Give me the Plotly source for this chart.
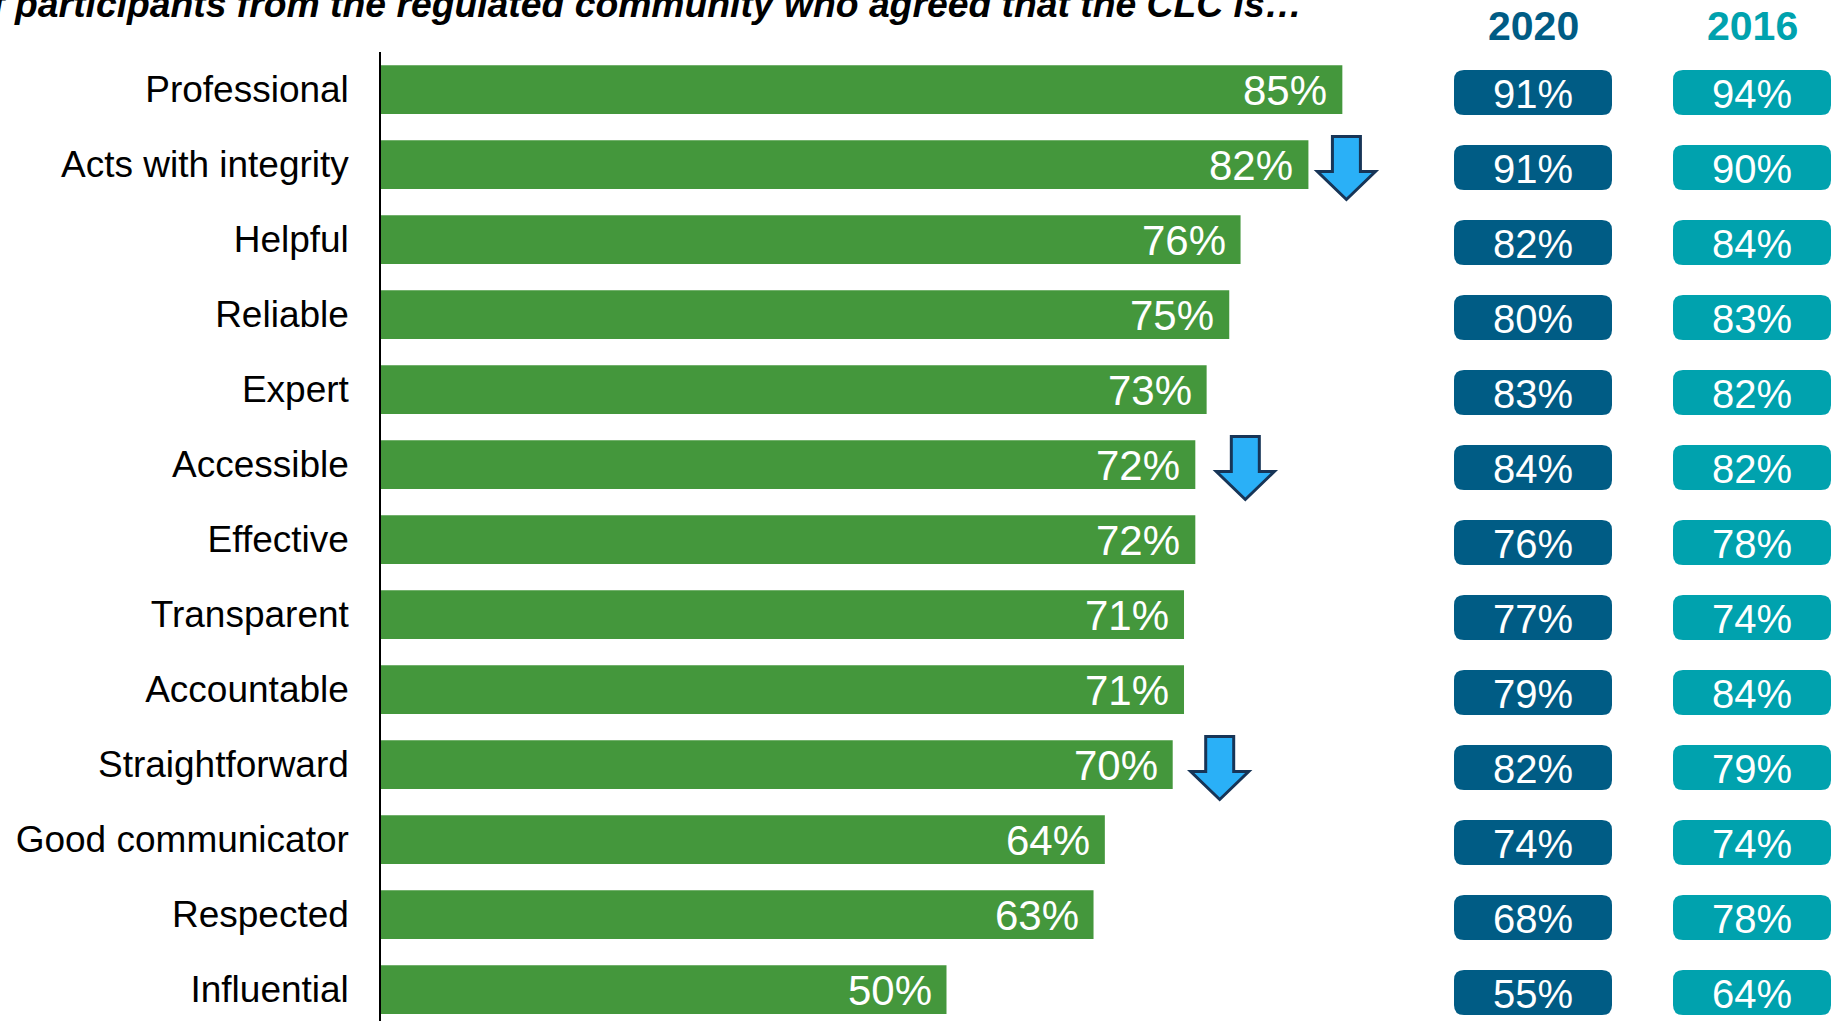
import plotly.graph_objects as go

# ---------------- data ----------------
categories = ["Professional", "Acts with integrity", "Helpful", "Reliable", "Expert",
              "Accessible", "Effective", "Transparent", "Accountable", "Straightforward",
              "Good communicator", "Respected", "Influential"]
values_current = [85, 82, 76, 75, 73, 72, 72, 71, 71, 70, 64, 63, 50]
values_2020 = [91, 91, 82, 80, 83, 84, 76, 77, 79, 82, 74, 68, 55]
values_2016 = [94, 90, 84, 83, 82, 82, 78, 74, 84, 79, 74, 78, 64]
decline_flags = [False, True, False, False, False, True, False, False, False, True, False, False, False]
column_headers = ["2020", "2016"]
title_text = "% of participants from the regulated community who agreed that the CLC is…"

# ---------------- layout constants ----------------
W, H = 1840, 1021
L, T = 381, 52
PXU = 11.31                      # pixels per x unit (1%)
x_max = (W - L) / PXU
y_bottom = 12.42
PYU = (H - T) / (y_bottom + 0.5)  # pixels per row
ARROW_GAPS_PX = [38, 50, 47]      # horizontal offset of each arrow from its bar end

GREEN = "#44973C"
BLUE20 = "#005C85"
TEAL16 = "#00A2AE"
FONT = "Liberation Sans, Arial, sans-serif"

ypos = list(range(len(categories)))

fig = go.Figure()
fig.add_trace(go.Bar(
    x=values_current, y=ypos, orientation="h",
    marker=dict(color=GREEN, line=dict(width=0)),
    width=0.65, hoverinfo="skip", showlegend=False,
))

annotations = []
shapes = []

# bar value labels
for i, v in enumerate(values_current):
    annotations.append(dict(x=v, y=i, xref="x", yref="y", text=f"{v}%",
                            showarrow=False, xanchor="right", yanchor="middle",
                            xshift=-13, yshift=-1,
                            font=dict(family=FONT, size=42, color="white")))

def px2x(px):
    return (px - L) / PXU

def rounded_rect(x0, x1, y0, y1, rx, ry):
    return (f"M {x0+rx},{y0} L {x1-rx},{y0} Q {x1},{y0} {x1},{y0+ry} "
            f"L {x1},{y1-ry} Q {x1},{y1} {x1-rx},{y1} L {x0+rx},{y1} "
            f"Q {x0},{y1} {x0},{y1-ry} L {x0},{y0+ry} Q {x0},{y0} {x0+rx},{y0} Z")

col_centers_px = [1533, 1752]
col_values = [values_2020, values_2016]
col_colors = [BLUE20, TEAL16]
box_w_px, box_h_px = 158, 45
rx = 10 / PXU
ry = 10 / PYU
for cpx, vals, colr, hdr in zip(col_centers_px, col_values, col_colors, column_headers):
    xc = px2x(cpx)
    hw = box_w_px / 2 / PXU
    hh = box_h_px / 2 / PYU
    for i, v in enumerate(vals):
        yc = i + 3 / PYU
        shapes.append(dict(type="path", xref="x", yref="y",
                           path=rounded_rect(xc - hw, xc + hw, yc - hh, yc + hh, rx, ry),
                           fillcolor=colr, line=dict(width=0), layer="above"))
        annotations.append(dict(x=xc, y=yc, xref="x", yref="y", text=f"{v}%",
                                showarrow=False, xanchor="center", yanchor="middle",
                                yshift=-1,
                                font=dict(family=FONT, size=40, color="white")))
    annotations.append(dict(x=xc, y=1 + (T - 26) / (H - T), xref="x", yref="paper",
                            text=hdr, showarrow=False, xanchor="center", yanchor="middle",
                            font=dict(family=FONT, size=41, color=colr, weight="bold")))

# decline arrows
flagged = [i for i, f in enumerate(decline_flags) if f]
for k, i in enumerate(flagged):
    v = values_current[i]
    cx = v + ARROW_GAPS_PX[k % len(ARROW_GAPS_PX)] / PXU
    hs = 14 / PXU
    hh = 29 / PXU
    top = i - 28 / PYU
    neck = i + 7 / PYU
    tip = i + 35 / PYU
    path = (f"M {cx-hs},{top} L {cx+hs},{top} L {cx+hs},{neck} L {cx+hh},{neck} "
            f"L {cx},{tip} L {cx-hh},{neck} L {cx-hs},{neck} Z")
    shapes.append(dict(type="path", xref="x", yref="y", path=path,
                       fillcolor="#2AB0F7", line=dict(color="#173557", width=3),
                       layer="above"))

# title (partly cut off at the top/left edge, as in the reference)
annotations.append(dict(x=(1304 - L) / (W - L), y=1 + (T - 3.5) / (H - T),
                        xref="paper", yref="paper", text=title_text, showarrow=False,
                        xanchor="right", yanchor="middle",
                        font=dict(family=FONT, size=37.3, color="black",
                                  weight="bold", style="italic")))

fig.update_layout(
    width=W, height=H,
    margin=dict(l=L, r=0, t=T, b=0, pad=0),
    paper_bgcolor="white", plot_bgcolor="white",
    xaxis=dict(range=[0, x_max], visible=False, fixedrange=True),
    yaxis=dict(range=[y_bottom, -0.5], tickmode="array", tickvals=ypos, ticktext=categories,
               showline=True, linecolor="black", linewidth=1.5, showgrid=False,
               zeroline=False, ticks="", ticklabelstandoff=23, fixedrange=True,
               tickfont=dict(family=FONT, size=37, color="black")),
    annotations=annotations, shapes=shapes,
    bargap=0.35,
)

fig.write_html("out.html",
               config={"displayModeBar": False},
               post_script="document.body.style.margin='0';document.body.style.overflow='hidden';")
